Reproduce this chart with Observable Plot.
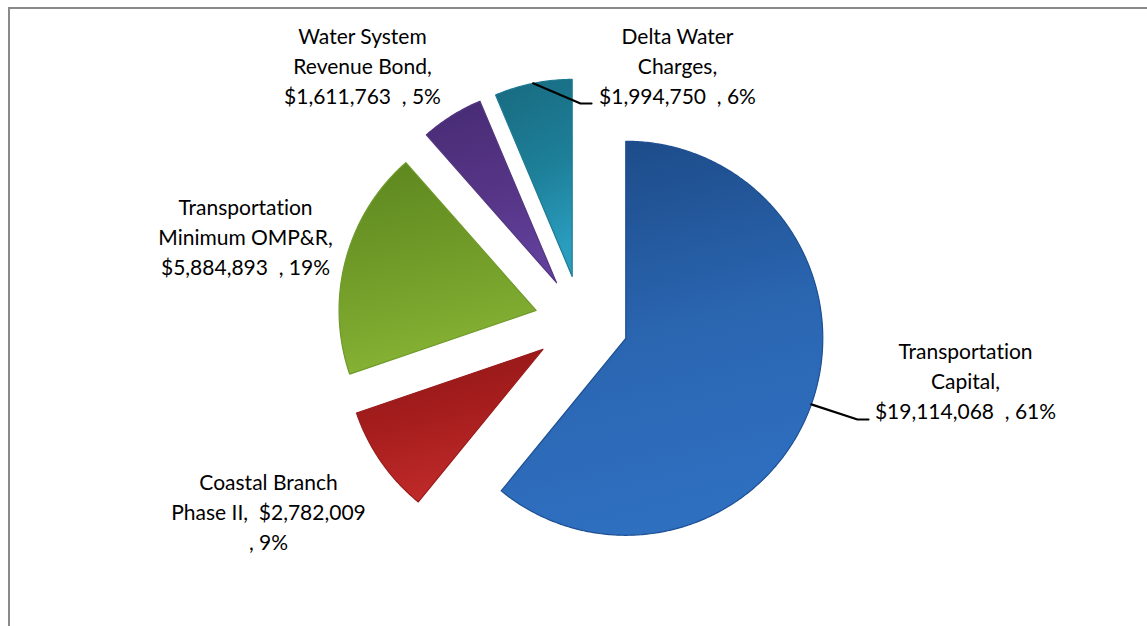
<!DOCTYPE html>
<html><head><meta charset="utf-8">
<script src="https://cdn.jsdelivr.net/npm/d3@7"></script>
<script src="https://cdn.jsdelivr.net/npm/@observablehq/plot@0.6"></script>
<style>
html,body{margin:0;padding:0;background:#fff;overflow:hidden;width:1147px;height:626px}
#wrap{position:relative;width:1147px;height:626px;overflow:hidden}
#frame{position:absolute;left:8px;top:7px;width:1170px;height:660px;border:2px solid #8a8a8a;box-sizing:border-box}
#chart{position:absolute;left:0;top:0}
svg text{font-variant-ligatures:none;font-feature-settings:"liga" 0}
</style></head><body>
<div id="wrap"><div id="frame"></div><div id="chart"></div></div>
<script>
// ---- data ----
const categories = ["Transportation Capital", "Coastal Branch Phase II", "Transportation Minimum OMP&R", "Water System Revenue Bond", "Delta Water Charges"];
const amounts = [19114068, 2782009, 5884893, 1611763, 1994750];
const percents = ["61%", "9%", "19%", "5%", "6%"];
const labelTexts = [
  "Transportation\nCapital,\n$19,114,068  , 61%",
  "Coastal Branch\nPhase II,  $2,782,009\n, 9%",
  "Transportation\nMinimum OMP&R,\n$5,884,893  , 19%",
  "Water System\nRevenue Bond,\n$1,611,763  , 5%",
  "Delta Water\nCharges,\n$1,994,750  , 6%"
];

// ---- layout / style ----
const W = 1147, H = 626;
const L = {cx: 581, cy: 322, r: 197, explode: 47};
const labelPos = [[965, 379], [268, 510], [245, 235], [362, 64], [677, 64]];
const leaderEnds = {0: [[857, 419], [868, 419]], 4: [[580, 103], [591, 103]]};
const grads = [
  ["#1b4883", "#2a65b0", "#2f6fc0"],
  ["#8e1616", "#a81e1e", "#c02a2a"],
  ["#5c861f", "#729d29", "#86b234"],
  ["#472b74", "#553485", "#60409a"],
  ["#186a80", "#1d7f98", "#2a9dbf"]
];
const edges = ["#1d4f92", "#9a1b1b", "#6f9a2a", "#52357f", "#1e7a92"];

const pie = d3.pie().sort(null).value(d => d)(amounts);
const slicePts = [];
const centers = [];
pie.forEach((p, i) => {
  const mid = (p.startAngle + p.endAngle) / 2;
  const ox = L.cx + L.explode * Math.sin(mid), oy = L.cy - L.explode * Math.cos(mid);
  centers.push({ox, oy, mid});
  slicePts.push({i, x: ox, y: oy});
  const n = Math.max(10, Math.ceil((p.endAngle - p.startAngle) / 0.01));
  for (let k = 0; k <= n; k++) {
    const a = p.startAngle + (p.endAngle - p.startAngle) * k / n;
    slicePts.push({i, x: ox + L.r * Math.sin(a), y: oy - L.r * Math.cos(a)});
  }
  slicePts.push({i, x: ox, y: oy});
});

const leaders = [];
Object.entries(leaderEnds).forEach(([k, pts]) => {
  const c = centers[+k];
  leaders.push({k, x: c.ox + L.r * Math.sin(c.mid), y: c.oy - L.r * Math.cos(c.mid)});
  pts.forEach(([x, y]) => leaders.push({k, x, y}));
});

const labels = labelTexts.map((t, i) => ({text: t, x: labelPos[i][0], y: labelPos[i][1], name: categories[i], pct: percents[i]}));

const marks = [];
pie.forEach((p, i) => {
  marks.push(Plot.line(slicePts.filter(d => d.i === i), {
    x: "x", y: "y", fill: `url(#grad${i})`, stroke: edges[i], strokeWidth: 1.2, strokeLinejoin: "round"
  }));
});
marks.push(Plot.line(leaders, {x: "x", y: "y", z: "k", stroke: "#000", strokeWidth: 2.2}));
marks.push(Plot.text(labels, {
  x: "x", y: "y", text: "text", fontSize: 21, fontFamily: "Lato", lineHeight: 30 / 21,
  textAnchor: "middle", fill: "#000"
}));

const svg = Plot.plot({
  width: W, height: H, margin: 0,
  x: {domain: [0, W], axis: null},
  y: {domain: [0, H], reverse: true, axis: null},
  style: {background: "transparent"},
  marks
});

const defs = d3.select(svg).insert("defs", ":first-child");
grads.forEach((g, i) => {
  const lg = defs.append("linearGradient").attr("id", `grad${i}`)
    .attr("x1", 0).attr("y1", 0).attr("x2", i === 1 ? 0.3 : 0.2).attr("y2", 1);
  lg.append("stop").attr("offset", "0%").attr("stop-color", g[0]);
  lg.append("stop").attr("offset", "55%").attr("stop-color", g[1]);
  lg.append("stop").attr("offset", "100%").attr("stop-color", g[2]);
});
document.getElementById("chart").appendChild(svg);
</script>
</body></html>
